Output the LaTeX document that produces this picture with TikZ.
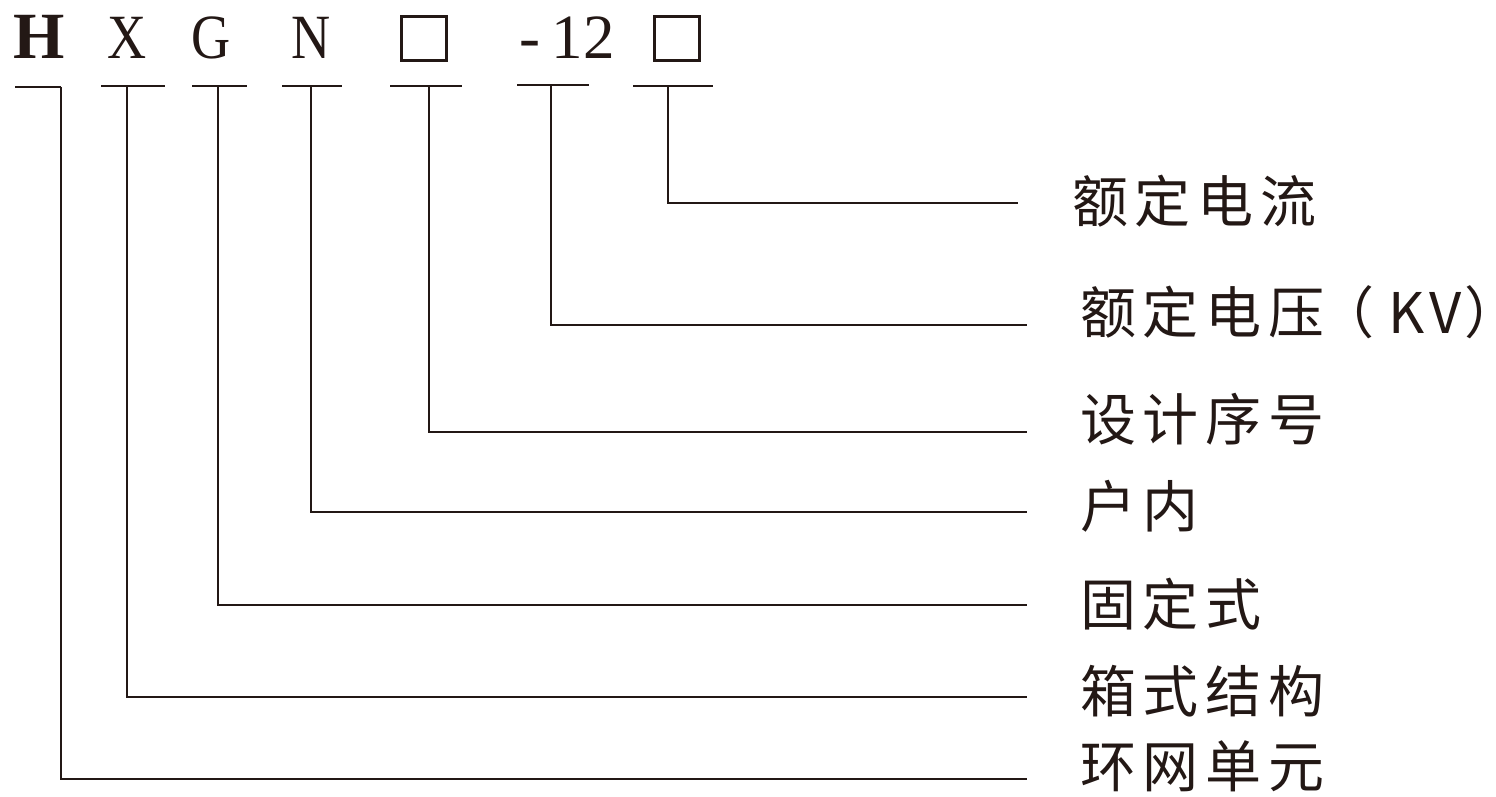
\documentclass[tikz,border=0pt]{standalone}
\usepackage{fontspec}
\setmainfont{Liberation Serif}
\newfontfamily\cjk[LetterSpace=12]{Noto Sans CJK SC}
\newfontfamily\cjktight{Noto Sans CJK SC}
\definecolor{ink}{RGB}{35,24,21}
\begin{document}
\begin{tikzpicture}[x=1pt,y=-1pt,
  code/.style={anchor=base,inner sep=0pt,text=ink,font=\fontsize{63}{63}\selectfont,xscale=0.86},
  codeb/.style={anchor=base,inner sep=0pt,text=ink,font=\fontsize{66}{66}\selectfont\bfseries},
  slot/.style={draw=ink,line width=3.5pt,minimum width=45pt,minimum height=44pt,inner sep=0pt},
  tick/.style={draw=ink,line width=2pt},
  lead/.style={draw=ink,line width=2pt},
  lbl/.style={anchor=base west,inner sep=0pt,text=ink,font=\cjk\fontsize{56}{56}\selectfont}]
\useasboundingbox (0,0) rectangle (1496,797);
% code letters
\node[codeb] (cH) at (39,59) {H};
\node[code] (cX) at (127.5,59) {X};
\node[code] (cG) at (211.5,59) {G};
\node[code] (cN) at (311.5,59) {N};
\node[slot] (cB1) at (424,38.5) {};
\node[code,xscale=1/0.86] (c12) at (567,59) {-\hspace{12pt}12};
\node[slot,line width=3pt] (cB2) at (677,38.5) {};
% tick heads
\coordinate (kH) at (61,87);
\coordinate (kX) at (127,86);
\coordinate (kG) at (218,86);
\coordinate (kN) at (311,86);
\coordinate (kB1) at (429,86);
\coordinate (k12) at (551,85);
\coordinate (kB2) at (668,86);
\draw[tick] (15,87) -- (kH);
\draw[tick] (101,86) -- (165,86);
\draw[tick] (192,86) -- (247,86);
\draw[tick] (282,86) -- (342,86);
\draw[tick] (390,86) -- (462,86);
\draw[tick] (517,85) -- (589,85);
\draw[tick] (633,86) -- (713,86);
% line ends
\coordinate (eB2) at (1018,203);
\coordinate (e12) at (1027,325);
\coordinate (eB1) at (1027,432);
\coordinate (eN) at (1027,512);
\coordinate (eG) at (1027,605);
\coordinate (eX) at (1027,697);
\coordinate (eH) at (1027,779);
% labels
\node[lbl] (lB2) at (1072,222) {额定电流};
\node[lbl] (l12) at (1080,333) {额定电压{\cjktight\fontsize{56}{56}\selectfont\hspace{-6pt}（\hspace{14pt}K\hspace{5pt}V\hspace{3pt}\makebox[18pt][l]{）}}};
\node[lbl] (lB1) at (1080,440) {设计序号};
\node[lbl] (lN) at (1080,527) {户内};
\node[lbl] (lG) at (1080,625) {固定式};
\node[lbl] (lX) at (1080,712) {箱式结构};
\node[lbl] (lH) at (1080,787) {环网单元};
% leaders
\draw[lead] (kB2) |- (eB2);
\draw[lead] (k12) |- (e12);
\draw[lead] (kB1) |- (eB1);
\draw[lead] (kN) |- (eN);
\draw[lead] (kG) |- (eG);
\draw[lead] (kX) |- (eX);
\draw[lead] (kH) |- (eH);
\end{tikzpicture}
\end{document}
